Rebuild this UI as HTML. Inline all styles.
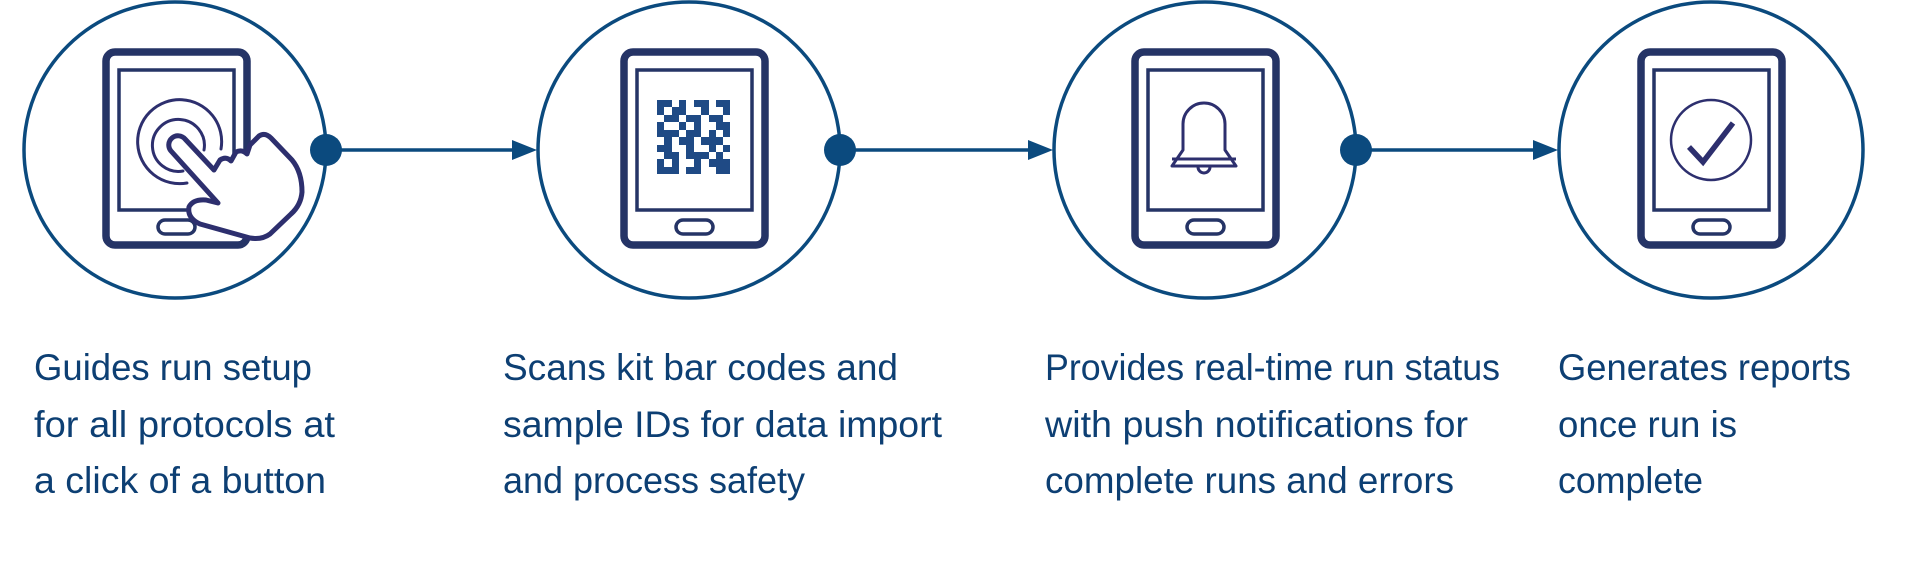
<!DOCTYPE html>
<html><head><meta charset="utf-8"><style>
html,body{margin:0;padding:0;background:#fff;}
svg{display:block;}
text{font-family:"Liberation Sans",sans-serif;font-size:37px;fill:#0d3f73;}
</style></head><body>
<svg width="1920" height="572" viewBox="0 0 1920 572" xmlns="http://www.w3.org/2000/svg">
<g fill="none" stroke="#0b4a7e" stroke-width="3.5">
<ellipse cx="175" cy="150" rx="151" ry="148"/>
<ellipse cx="689" cy="150" rx="151" ry="148"/>
<ellipse cx="1205" cy="150" rx="151" ry="148"/>
<ellipse cx="1711" cy="150" rx="152" ry="148"/>
</g>
<g stroke="#0b4a7e" stroke-width="3.5">
<line x1="326" y1="150" x2="515" y2="150"/>
<line x1="840" y1="150" x2="1032" y2="150"/>
<line x1="1356" y1="150" x2="1538" y2="150"/>
</g>
<g fill="#0b4a7e">
<circle cx="326" cy="150" r="16"/>
<circle cx="840" cy="150" r="16"/>
<circle cx="1356" cy="150" r="16"/>
<polygon points="537,150 512,140 512,160"/>
<polygon points="1053,150 1028,140 1028,160"/>
<polygon points="1558,150 1533,140 1533,160"/>
</g>
<g fill="none" stroke="#253466">
<g>
<rect x="106" y="52" width="141" height="193" rx="9" stroke-width="7.5"/>
<rect x="119" y="70" width="115" height="140" stroke-width="3.5"/>
<rect x="158" y="220" width="37" height="14" rx="7" stroke-width="3.5"/>
</g>
<g transform="translate(518,0)">
<rect x="106" y="52" width="141" height="193" rx="9" stroke-width="7.5"/>
<rect x="119" y="70" width="115" height="140" stroke-width="3.5"/>
<rect x="158" y="220" width="37" height="14" rx="7" stroke-width="3.5"/>
</g>
<g transform="translate(1029,0)">
<rect x="106" y="52" width="141" height="193" rx="9" stroke-width="7.5"/>
<rect x="119" y="70" width="115" height="140" stroke-width="3.5"/>
<rect x="158" y="220" width="37" height="14" rx="7" stroke-width="3.5"/>
</g>
<g transform="translate(1535,0)">
<rect x="106" y="52" width="141" height="193" rx="9" stroke-width="7.5"/>
<rect x="119" y="70" width="115" height="140" stroke-width="3.5"/>
<rect x="158" y="220" width="37" height="14" rx="7" stroke-width="3.5"/>
</g>
</g>
<g fill="none" stroke="#2d2f6e" stroke-linejoin="round" stroke-linecap="round">
<path d="M187,183 A42,42 0 1 1 221,149" stroke-width="3"/>
<path d="M183,171 A26,26 0 1 1 204,150" stroke-width="3"/>
<path d="M218,203 L171,151 A9,9 0 0 1 185,139 L214,170 L220,160 Q226,156 231,161 L236,152 Q242,149 247,154 L250,145 L259,136 Q265,132 271,138 L292,160 Q302,172 302,192 Q301,205 291,214 L270,234 Q262,240 250,238 L200,224 Q187,218 189,207 Q193,199 206,200 Z" fill="#fff" stroke-width="5"/>
</g>
<g fill="#1f4a85">
<rect x="657" y="100" width="15" height="7"/><rect x="679" y="100" width="7" height="7"/><rect x="694" y="100" width="15" height="7"/><rect x="716" y="100" width="14" height="7"/>
<rect x="657" y="107" width="7" height="8"/><rect x="672" y="107" width="14" height="8"/><rect x="701" y="107" width="8" height="8"/><rect x="723" y="107" width="7" height="8"/>
<rect x="664" y="115" width="15" height="7"/><rect x="686" y="115" width="15" height="7"/><rect x="709" y="115" width="14" height="7"/>
<rect x="657" y="122" width="7" height="8"/><rect x="679" y="122" width="7" height="8"/><rect x="694" y="122" width="7" height="8"/><rect x="716" y="122" width="14" height="8"/>
<rect x="657" y="130" width="22" height="7"/><rect x="686" y="130" width="15" height="7"/><rect x="709" y="130" width="7" height="7"/><rect x="723" y="130" width="7" height="7"/>
<rect x="664" y="137" width="8" height="8"/><rect x="679" y="137" width="15" height="8"/><rect x="701" y="137" width="22" height="8"/>
<rect x="657" y="145" width="15" height="7"/><rect x="686" y="145" width="8" height="7"/><rect x="709" y="145" width="7" height="7"/><rect x="723" y="145" width="7" height="7"/>
<rect x="664" y="152" width="15" height="7"/><rect x="686" y="152" width="23" height="7"/><rect x="716" y="152" width="7" height="7"/>
<rect x="657" y="159" width="7" height="8"/><rect x="672" y="159" width="7" height="8"/><rect x="694" y="159" width="7" height="8"/><rect x="709" y="159" width="21" height="8"/>
<rect x="657" y="167" width="22" height="7"/><rect x="686" y="167" width="15" height="7"/><rect x="716" y="167" width="14" height="7"/>
</g>
<g fill="none" stroke="#2d2f6e" stroke-width="3" stroke-linejoin="round">
<path d="M1183,150 L1183,124 A21,21 0 0 1 1225,124 L1225,150 L1236,166 L1172,166 Z"/>
<line x1="1172" y1="159" x2="1236" y2="159"/>
<path d="M1198,167 A6,6 0 0 0 1210,167"/>
</g>
<g fill="none" stroke="#2d2f6e">
<circle cx="1711" cy="140" r="40" stroke-width="2.5"/>
<path d="M1689,147 L1703,162 L1733,123" stroke-width="5.5"/>
</g>
<text x="34" y="380" textLength="278" lengthAdjust="spacingAndGlyphs">Guides run setup</text>
<text x="34" y="437" textLength="301" lengthAdjust="spacingAndGlyphs">for all protocols at</text>
<text x="34" y="493" textLength="292" lengthAdjust="spacingAndGlyphs">a click of a button</text>
<text x="503" y="380" textLength="395" lengthAdjust="spacingAndGlyphs">Scans kit bar codes and</text>
<text x="503" y="437" textLength="439" lengthAdjust="spacingAndGlyphs">sample IDs for data import</text>
<text x="503" y="493" textLength="302" lengthAdjust="spacingAndGlyphs">and process safety</text>
<text x="1045" y="380" textLength="455" lengthAdjust="spacingAndGlyphs">Provides real-time run status</text>
<text x="1045" y="437" textLength="423" lengthAdjust="spacingAndGlyphs">with push notifications for</text>
<text x="1045" y="493" textLength="409" lengthAdjust="spacingAndGlyphs">complete runs and errors</text>
<text x="1558" y="380" textLength="293" lengthAdjust="spacingAndGlyphs">Generates reports</text>
<text x="1558" y="437" textLength="179" lengthAdjust="spacingAndGlyphs">once run is</text>
<text x="1558" y="493" textLength="145" lengthAdjust="spacingAndGlyphs">complete</text>
</svg>
</body></html>
